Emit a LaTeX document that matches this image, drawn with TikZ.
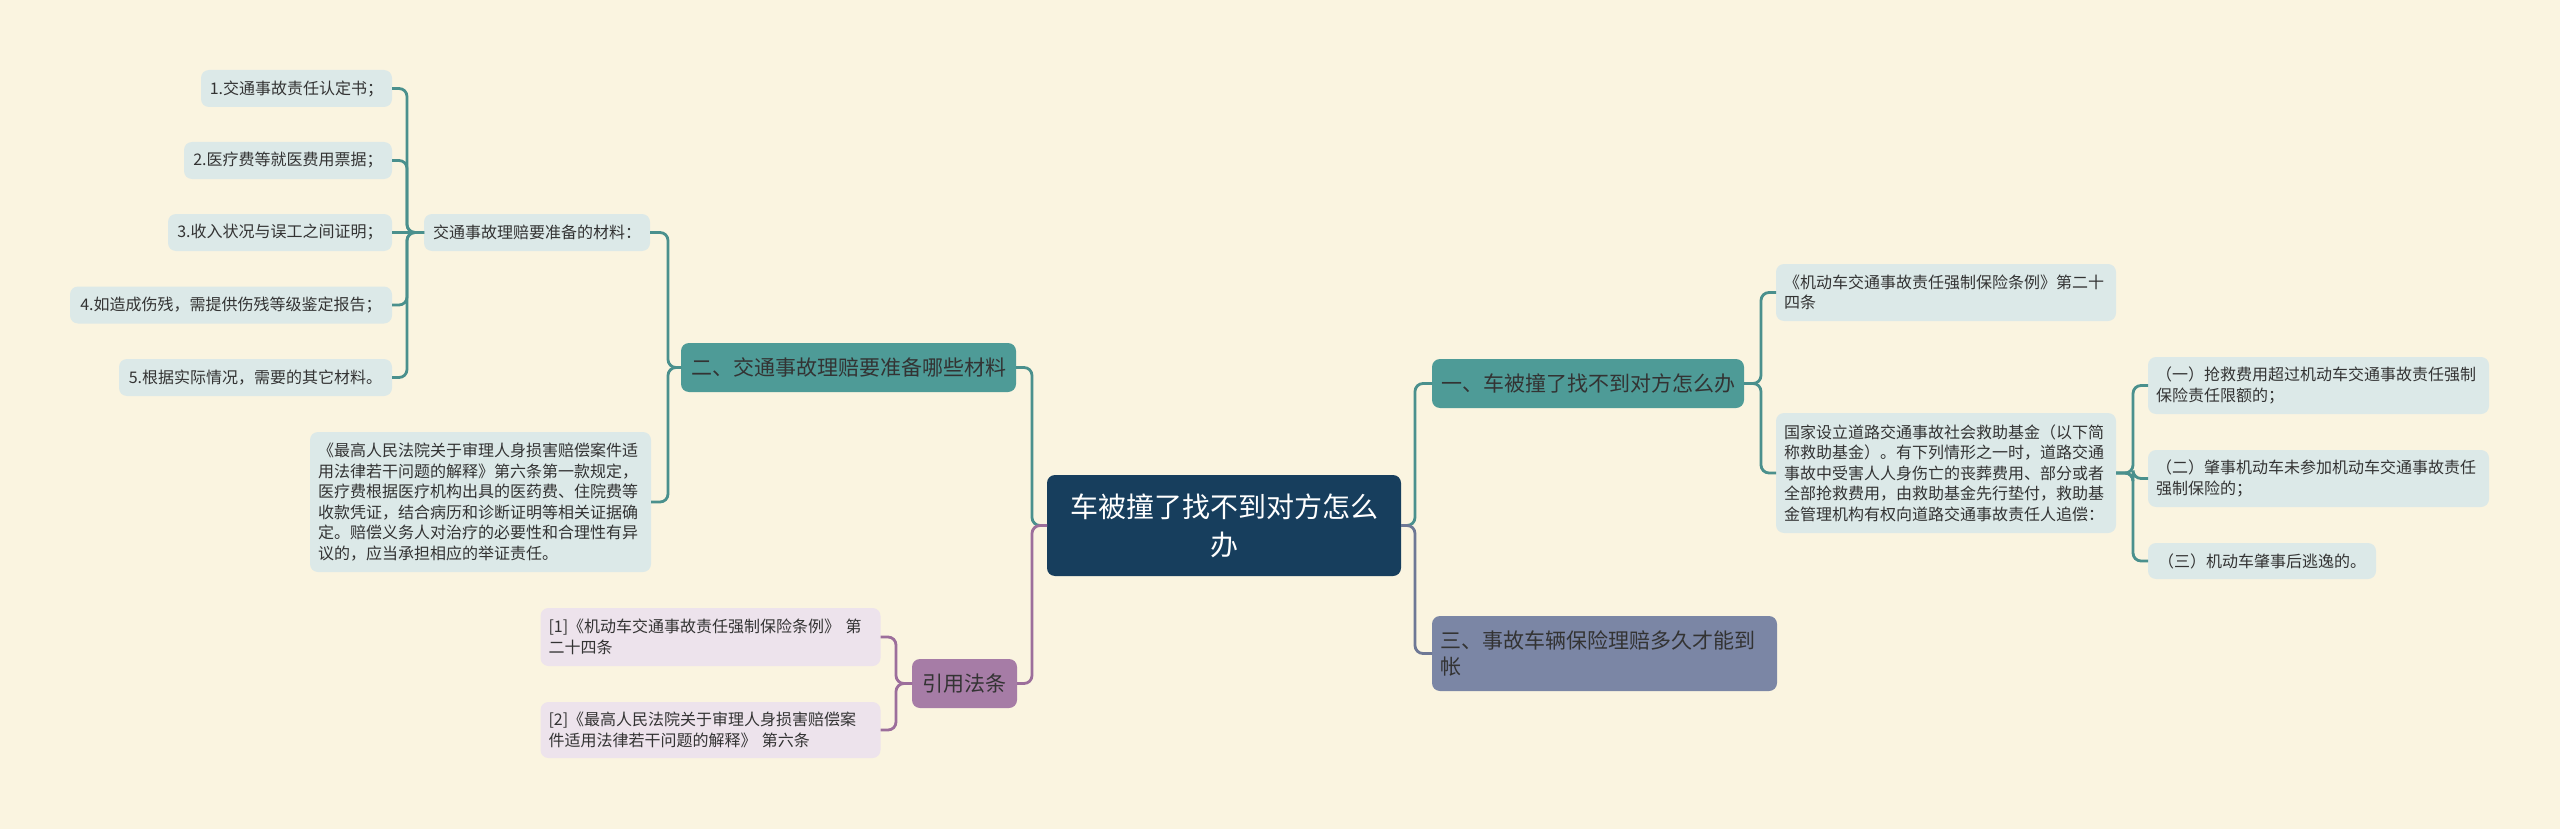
\documentclass[tikz,border=0pt]{standalone}
\usepackage{fontspec}
\setmainfont{Noto Sans CJK SC}
\usepackage{tikz}
\usetikzlibrary{positioning}
\usepackage{xcolor}
\definecolor{bgcream}{HTML}{FAF4E0}
\definecolor{rootblue}{HTML}{173E5D}
\definecolor{tealfill}{HTML}{4E9B97}
\definecolor{tealline}{HTML}{4A908D}
\definecolor{leafblue}{HTML}{DCE9E8}
\definecolor{purplefill}{HTML}{A67CA6}
\definecolor{purpleline}{HTML}{9C6E9B}
\definecolor{purpleleaf}{HTML}{EDE3EC}
\definecolor{slatefill}{HTML}{7B86A5}
\definecolor{slateline}{HTML}{6E7895}
\definecolor{textgray}{HTML}{333333}

\begin{document}
\begin{tikzpicture}[
  x=0.5pt, y=-0.5pt,
  box/.style={rounded corners=4pt, inner xsep=4pt, inner ysep=0pt, outer sep=0pt, text=textgray},
  leaf/.style={box, fill=leafblue, font=\fontsize{8}{10.25}\selectfont, minimum height=18.5pt},
  para/.style={leaf, text width=#1, align=left},
  cref/.style={box, fill=purpleleaf, font=\fontsize{8}{10.25}\selectfont, text width=162pt, align=left},
  branch/.style={box, fill=tealfill, font=\fontsize{10.5}{13}\selectfont, text=black!80, minimum height=24.5pt},
  link/.style={line width=1.4pt, rounded corners=4pt},
  tline/.style={link, tealline},
  pline/.style={link, purpleline},
  sline/.style={link, slateline},
]
\fill[bgcream] (0,0) rectangle (2560,829);

% --- root ---
\node[box, fill=rootblue, text=white, font=\fontsize{14}{19}\selectfont,
  minimum width=177pt, minimum height=50.5pt, text width=169pt, align=center]
  (root) at (1224,525.5) {车被撞了找不到对方怎么\\办};

% --- branches ---
\node[branch, minimum width=156pt] (b1) at (1588,383.5) {一、车被撞了找不到对方怎么办};
\node[branch, minimum width=167.5pt] (b2) at (848.5,367.5) {二、交通事故理赔要准备哪些材料};
\node[branch, fill=slatefill, minimum height=37.5pt, text width=164.5pt, align=left]
  (b3) at (1604.5,653.5) {三、事故车辆保险理赔多久才能到\\帐};
\node[branch, fill=purplefill, minimum width=52.5pt] (cite) at (964.5,683.5) {引用法条};

% --- materials ---
\node[leaf, minimum width=113pt] (m0) at (537,232.5) {交通事故理赔要准备的材料：};
\node[leaf, minimum width=95.5pt] (m1) at (296.5,88.5) {1.交通事故责任认定书；};
\node[leaf, minimum width=104pt] (m2) at (288,160.5) {2.医疗费等就医费用票据；};
\node[leaf, minimum width=112pt] (m3) at (280,232.5) {3.收入状况与误工之间证明；};
\node[leaf, minimum width=161pt] (m4) at (231,305) {4.如造成伤残，需提供伤残等级鉴定报告；};
\node[leaf, minimum width=136.5pt] (m5) at (255.5,377.5) {5.根据实际情况，需要的其它材料。};
\node[para=162.5pt, minimum height=70pt] (law) at (480.5,502)
  {《最高人民法院关于审理人身损害赔偿案件适\\用法律若干问题的解释》第六条第一款规定，\\医疗费根据医疗机构出具的医药费、住院费等\\收款凭证，结合病历和诊断证明等相关证据确\\定。赔偿义务人对治疗的必要性和合理性有异\\议的，应当承担相应的举证责任。};

% --- citations ---
\node[cref, minimum height=29pt] (r1) at (710.5,637) {[1]《机动车交通事故责任强制保险条例》 第\\二十四条};
\node[cref, minimum height=28pt] (r2) at (710.5,730) {[2]《最高人民法院关于审理人身损害赔偿案\\件适用法律若干问题的解释》 第六条};

% --- fund ---
\node[para=162pt, minimum height=28.5pt] (a1) at (1946,292.5) {《机动车交通事故责任强制保险条例》第二十\\四条};
\node[para=162pt, minimum height=60pt] (a2) at (1946,473)
  {国家设立道路交通事故社会救助基金（以下简\\称救助基金）。有下列情形之一时，道路交通\\事故中受害人人身伤亡的丧葬费用、部分或者\\全部抢救费用，由救助基金先行垫付，救助基\\金管理机构有权向道路交通事故责任人追偿：};
\node[para=162.5pt, minimum height=28.5pt] (s1) at (2318.5,385.5) {（一）抢救费用超过机动车交通事故责任强制\\保险责任限额的；};
\node[para=162.5pt, minimum height=28.5pt] (s2) at (2318.5,478.5) {（二）肇事机动车未参加机动车交通事故责任\\强制保险的；};
\node[leaf, minimum width=114pt, minimum height=18pt] (s3) at (2262,561) {（三）机动车肇事后逃逸的。};

% --- connectors ---
\draw[tline] (root.east) -- ++(14,0) |- (b1.west);
\draw[sline] (root.east) -- ++(14,0) |- (b3.west);
\draw[tline] (root.west) -- ++(-15,0) |- (b2.east);
\draw[pline] (root.west) -- ++(-15,0) |- (cite.east);

\draw[tline] (b2.west) -- ++(-13,0) |- (m0.east);
\draw[tline] (b2.west) -- ++(-13,0) |- (law.east);
\foreach \m in {m1,m2,m4,m5}
  \draw[tline] (m0.west) -- ++(-17,0) |- (\m.east);
\draw[tline] (m0.west) -- (m3.east);

\draw[pline] (cite.west) -- ++(-16,0) |- (r1.east);
\draw[pline] (cite.west) -- ++(-16,0) |- (r2.east);

\draw[tline] (b1.east) -- ++(17,0) |- (a1.west);
\draw[tline] (b1.east) -- ++(17,0) |- (a2.west);
\foreach \s in {s1,s2,s3}
  \draw[tline] (a2.east) -- ++(17,0) |- (\s.west);
\end{tikzpicture}
\end{document}
